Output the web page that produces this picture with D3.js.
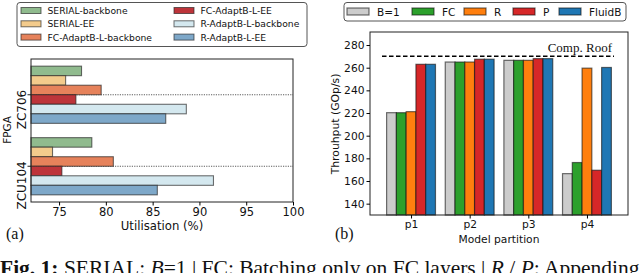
<!DOCTYPE html>
<html><head><meta charset="utf-8">
<script src="https://cdn.jsdelivr.net/npm/d3@7"></script>
<style>body{margin:0;background:#fff}svg{display:block}text{font-family:"DejaVu Sans",sans-serif}text.serif,text.serif tspan{font-family:"Liberation Serif","Times New Roman",serif}</style>
</head><body><svg id="c" width="640" height="273"></svg>
<script>
// ---- data (a) ----
const fpgas = ["ZC706", "ZCU104"];
const seriesA = ["SERIAL-backbone","SERIAL-EE","FC-AdaptB-L-backbone","FC-AdaptB-L-EE","R-AdaptB-L-backbone","R-AdaptB-L-EE"];
const colorsA = ["#90bb8e","#f3cb8c","#e6825b","#bd343a","#d4e8ef","#7ea8c9"];
const utilZC706 = [77.4, 75.7, 79.5, 76.8, 88.6, 86.4];
const utilZCU104 = [78.5, 74.3, 80.8, 75.3, 91.5, 85.5];
const utilTicks = [75, 80, 85, 90, 95, 100];
// ---- data (b) ----
const partitions = ["p1","p2","p3","p4"];
const seriesB = ["B=1","FC","R","P","FluidB"];
const colorsB = ["#cccccc","#2ca02c","#ff7f0e","#d62728","#1f77b4"];
const thrB1 = [220.3, 265.0, 266.5, 166.5];
const thrFC = [220.3, 265.0, 266.5, 176.3];
const thrR = [221.2, 265.0, 266.5, 259.6];
const thrP = [263.0, 267.5, 268.0, 169.5];
const thrFluidB = [263.0, 267.5, 268.0, 260.2];
const compRoof = 270;
const thrTicks = [140,160,180,200,220,240,260,280];

const svg = d3.select("#c");

// ================= (a) =================
const ax = d3.scaleLinear().domain([72,100]).range([31,293]);
const ay = d3.scalePoint().domain(fpgas).range([59,202]).padding(0.5);
const bh = ay.step()*0.8/6;
const utilRows = [utilZC706, utilZCU104];
const ga = svg.append("g");
fpgas.forEach(f=>{
  ga.append("line").attr("x1",ax(72)).attr("x2",ax(100)).attr("y1",ay(f)).attr("y2",ay(f))
    .attr("stroke","#333").attr("stroke-width",0.8).attr("stroke-dasharray","1.2,1.2");
});
fpgas.forEach((f,fi)=>{
  utilRows[fi].forEach((v,i)=>{
    ga.append("rect").attr("x",ax(72)).attr("y",ay(f)-3*bh+i*bh)
      .attr("width",ax(v)-ax(72)).attr("height",bh)
      .attr("fill",colorsA[i]).attr("stroke","#222").attr("stroke-opacity",0.65).attr("stroke-width",1.1);
  });
});
ga.append("rect").attr("x",31).attr("y",59).attr("width",262).attr("height",143)
  .attr("fill","none").attr("stroke","#222").attr("stroke-width",1);
const axA = ga.append("g").attr("transform","translate(0,202)")
  .call(d3.axisBottom(ax).tickValues(utilTicks).tickSize(3.5).tickPadding(2));
axA.select(".domain").remove();
axA.selectAll("text").attr("font-size","11.5px").attr("fill","#111");
fpgas.forEach(f=>{
  ga.append("line").attr("x1",27.5).attr("x2",31).attr("y1",ay(f)).attr("y2",ay(f)).attr("stroke","#222");
  ga.append("text").attr("transform",`translate(25.5,${ay(f)-5}) rotate(-90)`)
    .attr("text-anchor","end").attr("font-size","12px").attr("fill","#111").text(f);
});
ga.append("text").attr("transform","translate(11,130) rotate(-90)").attr("text-anchor","middle")
  .attr("font-size","10.5px").attr("fill","#111").text("FPGA");
ga.append("text").attr("x",162).attr("y",230).attr("text-anchor","middle")
  .attr("font-size","11.7px").attr("fill","#111").text("Utilisation (%)");
ga.append("text").attr("class","serif").attr("x",6).attr("y",239)
  .attr("font-size","16px").attr("fill","#111").text("(a)");
// legend (a)
ga.append("rect").attr("x",17).attr("y",2.5).attr("width",290).attr("height",44).attr("rx",3)
  .attr("fill","#fff").attr("stroke","#555").attr("stroke-width",1);
seriesA.forEach((s,i)=>{
  const col = Math.floor(i/3), row = i%3;
  const px = col===0?21:174, ty = 10.5+row*13.3;
  ga.append("rect").attr("x",px).attr("y",ty-3).attr("width",20).attr("height",6)
    .attr("fill",colorsA[i]).attr("stroke","#222").attr("stroke-opacity",0.65).attr("stroke-width",1);
  ga.append("text").attr("x",px+26.5).attr("y",ty+3.4).attr("font-size","9.2px").attr("fill","#111").text(s);
});

// ================= (b) =================
const bx = d3.scaleLinear().domain([-0.7,3.7]).range([370,628]);
const by = d3.scaleLinear().domain([130,291.5]).range([215,32]);
const rowsB = [thrB1, thrFC, thrR, thrP, thrFluidB];
const gb = svg.append("g");
partitions.forEach((p,pi)=>{
  rowsB.forEach((arr,j)=>{
    const x0 = bx(pi+(j-2.5)/6), x1 = bx(pi+(j-1.5)/6);
    gb.append("rect").attr("x",x0).attr("y",by(arr[pi])).attr("width",x1-x0).attr("height",by(130)-by(arr[pi]))
      .attr("fill",colorsB[j]).attr("stroke","#111").attr("stroke-opacity",0.6).attr("stroke-width",1.2);
  });
});
gb.append("line").attr("x1",382).attr("x2",614).attr("y1",by(compRoof)).attr("y2",by(compRoof))
  .attr("stroke","#000").attr("stroke-width",1.5).attr("stroke-dasharray","4.5,2.5");
gb.append("text").attr("class","serif").attr("x",612).attr("y",51.5).attr("text-anchor","end")
  .attr("font-size","13px").attr("fill","#111").text("Comp. Roof");
gb.append("rect").attr("x",370).attr("y",32).attr("width",258).attr("height",183)
  .attr("fill","none").attr("stroke","#222").attr("stroke-width",1);
const ayB = gb.append("g").attr("transform","translate(370,0)")
  .call(d3.axisLeft(by).tickValues(thrTicks).tickSize(3.5).tickPadding(2));
ayB.select(".domain").remove();
ayB.selectAll("text").attr("font-size","10.7px").attr("fill","#111");
const axB = gb.append("g").attr("transform","translate(0,215)")
  .call(d3.axisBottom(bx).tickValues(d3.range(partitions.length)).tickFormat(i=>partitions[i]).tickSize(3.5).tickPadding(2));
axB.select(".domain").remove();
axB.selectAll("text").attr("font-size","10.7px").attr("fill","#111");
gb.append("text").attr("transform","translate(339,124) rotate(-90)").attr("text-anchor","middle")
  .attr("font-size","10.8px").attr("fill","#111").text("Throuhput (GOp/s)");
gb.append("text").attr("x",499).attr("y",243).attr("text-anchor","middle")
  .attr("font-size","10.7px").attr("fill","#111").text("Model partition");
gb.append("text").attr("class","serif").attr("x",335).attr("y",239)
  .attr("font-size","16px").attr("fill","#111").text("(b)");
// legend (b)
gb.append("rect").attr("x",344).attr("y",2.5).attr("width",282).attr("height",18.5).attr("rx",3)
  .attr("fill","#fff").attr("stroke","#555").attr("stroke-width",1);
const legX = [347,412,464,513,559];
seriesB.forEach((s,j)=>{
  gb.append("rect").attr("x",legX[j]).attr("y",8).attr("width",22).attr("height",7)
    .attr("fill",colorsB[j]).attr("stroke","#111").attr("stroke-opacity",0.6).attr("stroke-width",1.2);
  gb.append("text").attr("x",legX[j]+30).attr("y",15.5).attr("font-size","10.5px").attr("fill","#111").text(s);
});

// ================= caption =================
const cap = svg.append("text").attr("class","serif").attr("x",0).attr("y",275)
  .attr("font-size","21.5px").attr("fill","#111");
cap.append("tspan").attr("font-weight","bold").text("Fig. 1: ");
cap.append("tspan").text("SERIAL: ");
cap.append("tspan").attr("font-style","italic").text("B");
cap.append("tspan").text("=1 | FC: Batching only on FC layers | ");
cap.append("tspan").attr("font-style","italic").text("R");
cap.append("tspan").text(" / ");
cap.append("tspan").attr("font-style","italic").text("P");
cap.append("tspan").text(": Appending");
</script></body></html>
